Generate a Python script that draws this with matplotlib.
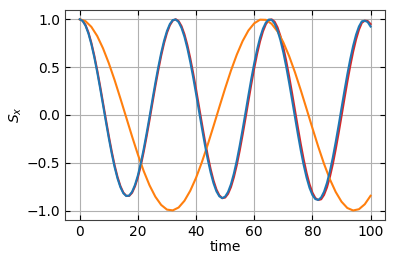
import numpy as np
import matplotlib
matplotlib.use('Agg')
import matplotlib.pyplot as plt

# time axis (step 1 for the fast curves, step 2 for the slow one)
t_fast = np.arange(0, 101, 1)
t_slow = np.arange(0, 101, 2)

sx_blue = [
    1.000, 0.983, 0.933, 0.851, 0.740, 0.605, 0.450, 0.282, 0.106, -0.071,
    -0.243, -0.403, -0.546, -0.665, -0.757, -0.819, -0.848, -0.843, -0.804, -0.732,
    -0.632, -0.505, -0.356, -0.192, -0.019, 0.160, 0.335, 0.499, 0.648, 0.776,
    0.878, 0.951, 0.992, 0.998, 0.971, 0.910, 0.818, 0.698, 0.555, 0.394,
    0.221, 0.042, -0.136, -0.306, -0.463, -0.601, -0.714, -0.799, -0.851, -0.870,
    -0.854, -0.805, -0.724, -0.613, -0.478, -0.322, -0.152, 0.025, 0.205, 0.379,
    0.541, 0.686, 0.808, 0.902, 0.966, 0.997, 0.994, 0.955, 0.884, 0.782,
    0.654, 0.503, 0.336, 0.159, -0.022, -0.201, -0.371, -0.524, -0.656, -0.762,
    -0.837, -0.880, -0.889, -0.863, -0.803, -0.711, -0.591, -0.448, -0.285, -0.111,
    0.070, 0.250, 0.423, 0.582, 0.722, 0.838, 0.925, 0.979, 0.985, 0.971,
    0.924,
]

sx_red = [
    1.000, 0.987, 0.940, 0.862, 0.754, 0.622, 0.470, 0.304, 0.129, -0.047,
    -0.220, -0.381, -0.527, -0.649, -0.745, -0.812, -0.846, -0.847, -0.814, -0.747,
    -0.652, -0.530, -0.385, -0.224, -0.053, 0.125, 0.300, 0.466, 0.619, 0.751,
    0.859, 0.938, 0.987, 1.000, 0.981, 0.928, 0.844, 0.731, 0.593, 0.437,
    0.267, 0.089, -0.089, -0.262, -0.422, -0.566, -0.686, -0.779, -0.841, -0.870,
    -0.864, -0.825, -0.754, -0.651, -0.524, -0.374, -0.208, -0.034, 0.146, 0.323,
    0.489, 0.640, 0.770, 0.874, 0.949, 0.992, 0.999, 0.975, 0.916, 0.825,
    0.707, 0.564, 0.403, 0.229, 0.049, -0.131, -0.306, -0.466, -0.607, -0.724,
    -0.812, -0.869, -0.890, -0.882, -0.836, -0.758, -0.649, -0.517, -0.361, -0.192,
    -0.013, 0.168, 0.345, 0.511, 0.661, 0.789, 0.891, 0.964, 0.985, 0.982,
    0.950,
]

sx_orange = [
    1.000, 0.980, 0.921, 0.826, 0.697, 0.541, 0.364, 0.171, -0.027, -0.225,
    -0.414, -0.587, -0.736, -0.855, -0.941, -0.990, -0.998, -0.968, -0.898, -0.793,
    -0.657, -0.494, -0.312, -0.117, 0.082, 0.278, 0.464, 0.630, 0.772, 0.883,
    0.958, 0.996, 0.994, 0.952, 0.873, 0.759, 0.615, 0.446, 0.259, 0.062,
    -0.137, -0.331, -0.512, -0.672, -0.805, -0.907, -0.973, -0.999, -0.986, -0.934,
    -0.845,
]

fig = plt.figure(figsize=(3.95, 2.63), dpi=100)
ax = fig.add_axes([0.165, 0.163, 0.81, 0.80])

ax.plot(t_fast, sx_red, color='#d62728', lw=1.5)
ax.plot(t_slow, sx_orange, color='#ff7f0e', lw=1.5)
ax.plot(t_fast, sx_blue, color='#1f77b4', lw=1.5)

ax.set_xlim(-5, 105)
ax.set_ylim(-1.1, 1.1)
ax.set_xticks([0, 20, 40, 60, 80, 100])
ax.set_yticks([-1.0, -0.5, 0.0, 0.5, 1.0])
ax.grid(True, color='#b0b0b0', lw=0.8)
ax.tick_params(direction='in', top=True, right=True, labelsize=10)
for sp in ax.spines.values():
    sp.set_color('0.25')

ax.set_xlabel('time', fontsize=10, labelpad=1)
ax.set_ylabel('$S_x$', fontsize=10, labelpad=2)

plt.savefig('out.png', dpi=100)
